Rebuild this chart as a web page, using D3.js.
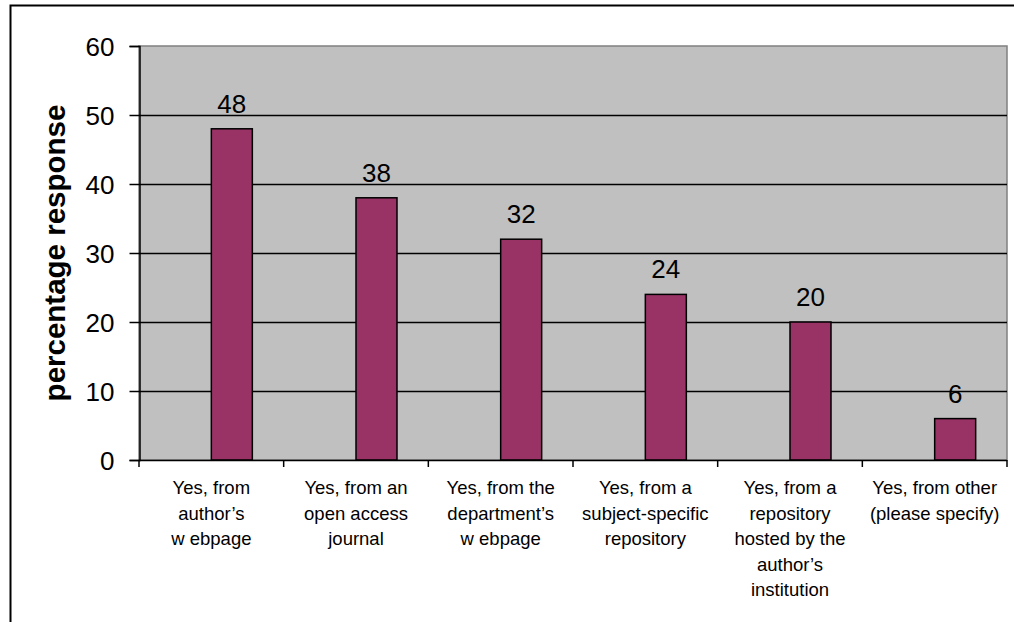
<!DOCTYPE html>
<html>
<head>
<meta charset="utf-8">
<script src="https://d3js.org/d3.v7.min.js"></script>
<style>
  body { margin: 0; background: #fff; }
  text { font-family: "Liberation Sans", Arial, sans-serif; fill: #000; }
</style>
</head>
<body>
<div id="chart"></div>
<script>
// categories (each label split into lines) and values
const categories = [
    ["Yes, from", "author\u2019s", "w ebpage"],
    ["Yes, from an", "open access", "journal"],
    ["Yes, from the", "department\u2019s", "w ebpage"],
    ["Yes, from a", "subject-specific", "repository"],
    ["Yes, from a", "repository", "hosted by the", "author\u2019s", "institution"],
    ["Yes, from other", "(please specify)"]
];
const values = [48, 38, 32, 24, 20, 6];
const yTicks = [0, 10, 20, 30, 40, 50, 60];
const yTitle = "percentage response";

const W = 1014, H = 622;
const margin = {top: 46, right: 7, bottom: 162, left: 139};

const svg = d3.select("#chart").append("svg")
    .attr("width", W)
    .attr("height", H);

// outer frame (only top and left visible)
svg.append("rect")
    .attr("x", 10.5).attr("y", 5.5)
    .attr("width", W + 10).attr("height", H + 10)
    .attr("fill", "#fff")
    .attr("stroke", "#000")
    .attr("stroke-width", 2);

const x0 = margin.left, x1 = W - margin.right;
const y0 = H - margin.bottom, y1 = margin.top;

const x = d3.scaleBand()
    .domain(d3.range(categories.length))
    .range([x0, x1]);

const y = d3.scaleLinear()
    .domain([0, 60])
    .range([y0, y1]);

// plot background
svg.append("rect")
    .attr("x", x0).attr("y", y1)
    .attr("width", x1 - x0).attr("height", y0 - y1)
    .attr("fill", "#c0c0c0")
    .attr("stroke", "#808080")
    .attr("stroke-width", 1.5);

// gridlines
svg.append("g")
    .selectAll("line")
    .data(yTicks.filter(d => d > 0 && d < 60))
    .enter().append("line")
    .attr("x1", x0).attr("x2", x1)
    .attr("y1", d => Math.round(y(d)) + 0.5)
    .attr("y2", d => Math.round(y(d)) + 0.5)
    .attr("stroke", "#000")
    .attr("stroke-width", 1.5);

// bars (start at band centre, like an Excel cluster with a blank series)
const barW = 41;
svg.append("g")
    .selectAll("rect")
    .data(values)
    .enter().append("rect")
    .attr("x", (d, i) => x(i) + x.bandwidth() / 2)
    .attr("y", d => y(d))
    .attr("width", barW)
    .attr("height", d => y(0) - y(d))
    .attr("fill", "#993366")
    .attr("stroke", "#000")
    .attr("stroke-width", 1.5);

// value labels
svg.append("g")
    .selectAll("text")
    .data(values)
    .enter().append("text")
    .attr("x", (d, i) => x(i) + x.bandwidth() / 2 + barW / 2)
    .attr("y", d => y(d) - 16)
    .attr("text-anchor", "middle")
    .style("font-size", "26px")
    .text(d => d);

// y axis
const yAxis = d3.axisLeft(y)
    .tickValues(yTicks)
    .tickSize(10)
    .tickPadding(15);
const gy = svg.append("g")
    .attr("transform", `translate(${x0 + 0.5},0)`)
    .call(yAxis);
gy.select(".domain").attr("stroke", "#000").attr("stroke-width", 1.5);
gy.selectAll(".tick line").attr("stroke", "#000").attr("stroke-width", 1.5);
gy.selectAll(".tick text")
    .style("font-size", "26px")
    .style("font-family", "'Liberation Sans', Arial, sans-serif")
    .attr("fill", "#000")
    .attr("dy", "0.35em");

// x axis line + ticks at band boundaries
const gx = svg.append("g");
gx.append("line")
    .attr("x1", x0).attr("x2", x1)
    .attr("y1", y0 + 0.5).attr("y2", y0 + 0.5)
    .attr("stroke", "#000").attr("stroke-width", 1.5);
gx.selectAll("line.tick")
    .data(d3.range(categories.length + 1))
    .enter().append("line")
    .attr("class", "tick")
    .attr("x1", i => i < categories.length ? x(i) : x1)
    .attr("x2", i => i < categories.length ? x(i) : x1)
    .attr("y1", y0).attr("y2", y0 + 7)
    .attr("stroke", "#000").attr("stroke-width", 1.5);

// category labels
const cat = gx.selectAll("text.cat")
    .data(categories)
    .enter().append("text")
    .attr("class", "cat")
    .attr("text-anchor", "middle")
    .attr("transform", (d, i) => `translate(${x(i) + x.bandwidth() / 2},${y0 + 34})`)
    .style("font-size", "18.5px");
cat.selectAll("tspan")
    .data(d => d)
    .enter().append("tspan")
    .attr("x", 0)
    .attr("y", (d, i) => i * 25.5)
    .text(d => d);

// y title
svg.append("text")
    .attr("transform", `translate(65,${(y0 + y1) / 2}) rotate(-90)`)
    .attr("text-anchor", "middle")
    .style("font-size", "29.5px")
    .style("font-weight", "bold")
    .text(yTitle);
</script>
</body>
</html>
